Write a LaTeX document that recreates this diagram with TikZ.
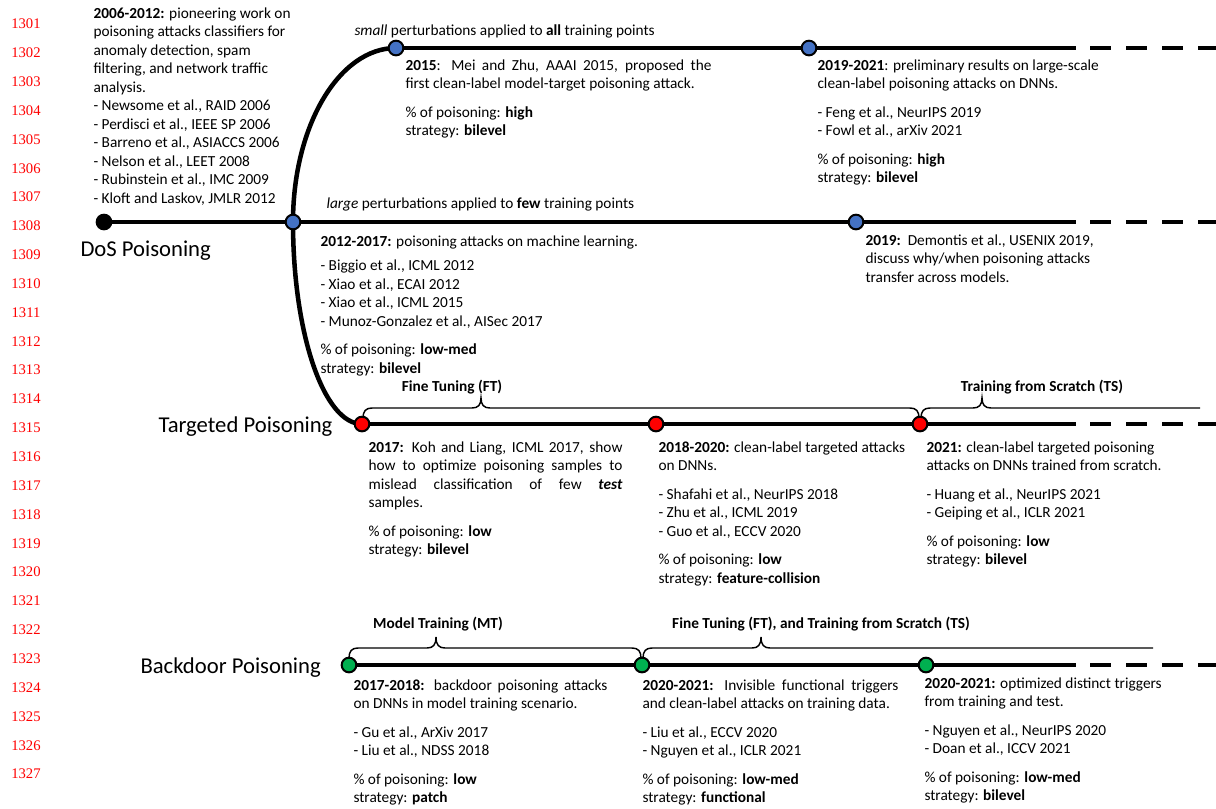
\documentclass[tikz,border=0pt]{standalone}
\usepackage{fontspec}
\setmainfont{Carlito}
\newfontfamily\numfont{Liberation Serif}
\usetikzlibrary{backgrounds}

\newcommand\bodyfont{\fontsize{11.5}{13.9}\selectfont}
\definecolor{dotblue}{RGB}{68,114,196}
\definecolor{dotred}{RGB}{255,0,0}
\definecolor{dotgreen}{RGB}{0,176,80}

\tikzset{every picture/.style={line width=0.75pt}}
\tikzset{
	tline/.style={line width=3.4pt},
	dline/.style={line width=3.4pt, dash pattern=on 15.75pt off 11.25pt},
	brc/.style={line width=1.1pt},
	evdot/.style={circle, draw=black, line width=1.5pt, minimum size=11pt, inner sep=0pt},
	bluedot/.style={evdot, fill=dotblue},
	reddot/.style={evdot, fill=dotred},
	greendot/.style={evdot, fill=dotgreen},
	txtblock/.style={anchor=north west, inner sep=0pt, align=left, font=\bodyfont},
	phaselabel/.style={anchor=west, inner sep=0pt, font=\fontsize{17}{20}\selectfont},
	brlabel/.style={inner sep=0pt, font=\bodyfont\bfseries},
	lineno/.style={inner sep=0pt, text=red, font=\numfont\fontsize{11}{12}\selectfont}}

\begin{document}
\begin{tikzpicture}[x=0.75pt,y=0.75pt,yscale=-1,xscale=1]
	\useasboundingbox (0,0) rectangle (1216,808);

	% line numbers of the page
	\foreach \n in {0,...,26}{
		\pgfmathtruncatemacro\lnum{1301+\n}
		\node[lineno] (ln\n) at (26,{24+28.85*\n}) {\lnum};
	}

	% Event dots
	\node[evdot, fill=black] (dos0) at (104,222) {};
	\node[bluedot] (dos1) at (293,222) {};
	\node[bluedot] (dos2) at (856,222) {};
	\node[bluedot] (sm1) at (396,48) {};
	\node[bluedot] (sm2) at (809,48) {};
	\node[reddot] (tg1) at (362,424) {};
	\node[reddot] (tg2) at (656,424) {};
	\node[reddot] (tg3) at (920,424) {};
	\node[greendot] (bd1) at (349,665) {};
	\node[greendot] (bd2) at (642,665) {};
	\node[greendot] (bd3) at (926,665) {};

	% ends of the solid and dashed parts
	\coordinate (smend) at (1076,48);
	\coordinate (smdash) at (1090,48);
	\coordinate (smfin) at (1216,48);
	\coordinate (dosend) at (1076,222);
	\coordinate (dosdash) at (1090,222);
	\coordinate (dosfin) at (1216,222);
	\coordinate (tgend) at (1076,424);
	\coordinate (tgdash) at (1090,424);
	\coordinate (tgfin) at (1216,424);
	\coordinate (bdend) at (1076,665);
	\coordinate (bddash) at (1090,665);
	\coordinate (bdfin) at (1216,665);

	\begin{scope}[on background layer]
	% Time lines
	\draw[tline] (dos0.center) -- (dos1.center) -- (dos2.center) -- (dosend);
	\draw[dline] (dosdash) -- (dosfin);
	\draw[tline] (sm1.center) -- (sm2.center) -- (smend);
	\draw[dline] (smdash) -- (smfin);
	\draw[tline] (tg1.center) -- (tg2.center) -- (tg3.center) -- (tgend);
	\draw[dline] (tgdash) -- (tgfin);
	\draw[tline] (bd1.center) -- (bd2.center) -- (bd3.center) -- (bdend);
	\draw[dline] (bddash) -- (bdfin);
	% Curve Lines
	\draw[tline] (sm1.center) .. controls (339.1,48) and (293,125.9) .. (dos1.center) .. controls (293,333.6) and (323.9,424) .. (tg1.center);
	\end{scope}

	% Shape: Braces
	\draw[brc] (363,418) .. controls (363,411) and (366,408) .. (372,408) -- (472,408) .. controls (478,408) and (481,405) .. (481,398) .. controls (481,405) and (484,408) .. (490,408) -- (910,408) .. controls (916,408) and (919,411) .. (919,418);
	\draw[brc] (921,418) .. controls (921,411) and (924,408) .. (930,408) -- (973,408) .. controls (979,408) and (982,405) .. (982,398) .. controls (982,405) and (985,408) .. (991,408) -- (1200,408);
	\draw[brc] (349,658) .. controls (349,651) and (352,648) .. (358,648) -- (427,648) .. controls (433,648) and (436,645) .. (436,637) .. controls (436,645) and (439,648) .. (445,648) -- (632,648) .. controls (638,648) and (641,651) .. (641,658);
	\draw[brc] (643,658) .. controls (643,651) and (646,648) .. (652,648) -- (752,648) .. controls (758,648) and (761,645) .. (761,637) .. controls (761,645) and (764,648) .. (770,648) -- (1153,648);

	% Text Node
	\node[brlabel] (ftlbl) at (452,387) {Fine Tuning (FT)};
	\node[brlabel] (tslbl) at (1042,387) {Training from Scratch (TS)};
	\node[brlabel] (mtlbl) at (438,624) {Model Training (MT)};
	\node[brlabel] (fttslbl) at (821,624) {Fine Tuning (FT), and Training from Scratch (TS)};

	% Text Node
	\node[phaselabel] (doslbl) at (80,251) {DoS Poisoning};
	\node[phaselabel] (tglbl) at (158,427) {Targeted Poisoning};
	\node[phaselabel] (bdlbl) at (140,668) {Backdoor Poisoning};

	% Text Node
	\node[txtblock, anchor=west] (smlbl) at (354,31) {\textit{small} perturbations applied to \textbf{all} training points};
	\node[txtblock, anchor=west] (lglbl) at (326,204) {\textit{large} perturbations applied to \textbf{few} training points};

	% Text Node
	\node[txtblock] (dos0txt) at (93,7) {\textbf{2006-2012:} pioneering work on\\poisoning attacks classifiers for\\anomaly detection, spam\\filtering, and network traffic\\analysis.\\- Newsome et al., RAID 2006\\- Perdisci et al., IEEE SP 2006\\- Barreno et al., ASIACCS 2006\\- Nelson et al., LEET 2008\\- Rubinstein et al., IMC 2009\\- Kloft and Laskov, JMLR 2012};
	% Text Node
	\node[txtblock] (sm1txt) at (405,59) {\makebox[229.5pt][s]{\textbf{2015}: Mei and Zhu, AAAI 2015, proposed the}\\first clean-label model-target poisoning attack.\\[7.5pt]\% of poisoning: \textbf{high}\\strategy: \textbf{bilevel}};
	% Text Node
	\node[txtblock] (sm2txt) at (817,59) {\textbf{2019-2021}: preliminary results on large-scale\\clean-label poisoning attacks on DNNs.\\[7.5pt]- Feng et al., NeurIPS 2019\\- Fowl et al., arXiv 2021\\[7.5pt]\% of poisoning: \textbf{high}\\strategy: \textbf{bilevel}};
	% Text Node
	\node[txtblock] (dos1txt) at (320,235) {\textbf{2012-2017:} poisoning attacks on machine learning.\\[4.5pt]- Biggio et al., ICML 2012\\- Xiao et al., ECAI 2012\\- Xiao et al., ICML 2015\\- Munoz-Gonzalez et al., AISec 2017\\[7.5pt]\% of poisoning: \textbf{low-med}\\strategy: \textbf{bilevel}};
	% Text Node
	\node[txtblock] (dos2txt) at (865,234) {\textbf{2019:}\ \ Demontis et al., USENIX 2019,\\discuss why/when poisoning attacks\\transfer across models.};
	% Text Node
	\node[txtblock] (tg1txt) at (368,441) {\makebox[190.5pt][s]{\textbf{2017:} Koh and Liang, ICML 2017, show}\\\makebox[190.5pt][s]{how to optimize poisoning samples to}\\\makebox[190.5pt][s]{mislead classification of few \textbf{\textit{test}}}\\samples.\\[7.5pt]\% of poisoning: \textbf{low}\\strategy: \textbf{bilevel}};
	% Text Node
	\node[txtblock] (tg2txt) at (658,441) {\textbf{2018-2020:} clean-label targeted attacks\\on DNNs.\\[7.5pt]- Shafahi et al., NeurIPS 2018\\- Zhu et al., ICML 2019\\- Guo et al., ECCV 2020\\[7.5pt]\% of poisoning: \textbf{low}\\strategy: \textbf{feature-collision}};
	% Text Node
	\node[txtblock] (tg3txt) at (926,441) {\textbf{2021:} clean-label targeted poisoning\\attacks on DNNs trained from scratch.\\[7.5pt]- Huang et al., NeurIPS 2021\\- Geiping et al., ICLR 2021\\[7.5pt]\% of poisoning: \textbf{low}\\strategy: \textbf{bilevel}};
	% Text Node
	\node[txtblock] (bd1txt) at (353,679) {\makebox[190.5pt][s]{\textbf{2017-2018:} backdoor poisoning attacks}\\on DNNs in model training scenario.\\[7.5pt]- Gu et al., ArXiv 2017\\- Liu et al., NDSS 2018\\[7.5pt]\% of poisoning: \textbf{low}\\strategy: \textbf{patch}};
	% Text Node
	\node[txtblock] (bd2txt) at (642,679) {\makebox[192pt][s]{\textbf{2020-2021:} Invisible functional triggers}\\and clean-label attacks on training data.\\[7.5pt]- Liu et al., ECCV 2020\\- Nguyen et al., ICLR 2021\\[7.5pt]\% of poisoning: \textbf{low-med}\\strategy: \textbf{functional}};
	% Text Node
	\node[txtblock] (bd3txt) at (924,677) {\textbf{2020-2021:} optimized distinct triggers\\from training and test.\\[7.5pt]- Nguyen et al., NeurIPS 2020\\- Doan et al., ICCV 2021\\[7.5pt]\% of poisoning: \textbf{low-med}\\strategy: \textbf{bilevel}};

\end{tikzpicture}
\end{document}
